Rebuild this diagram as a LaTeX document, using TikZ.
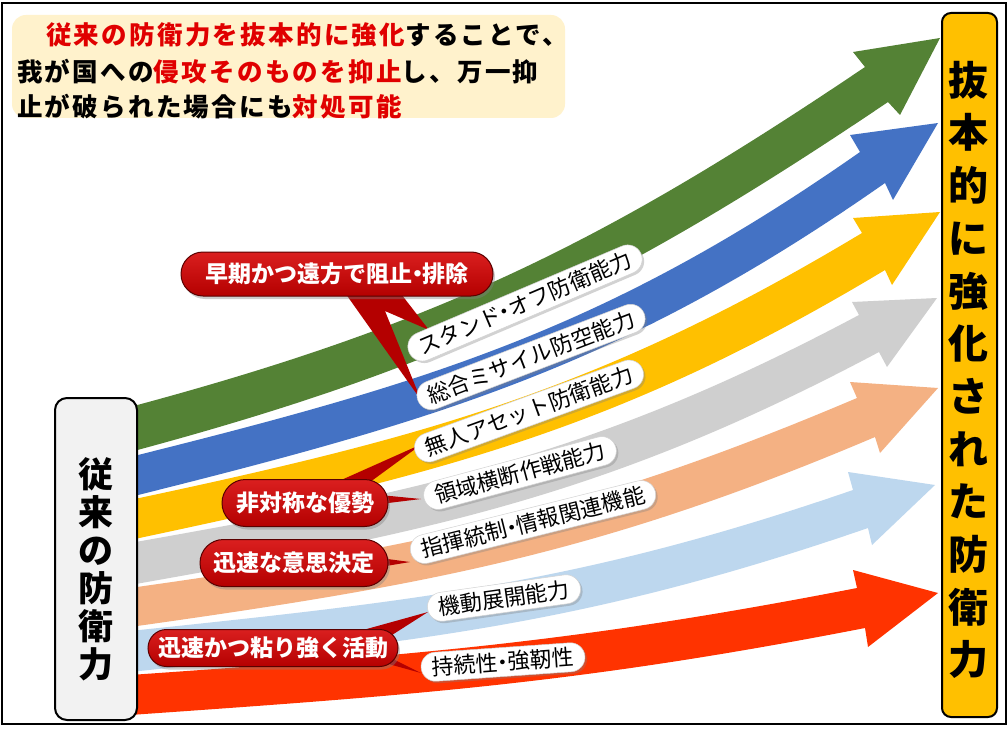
\documentclass[tikz,border=0pt]{standalone}
\usepackage{fontspec}
\setmainfont{Noto Sans CJK JP}
\usetikzlibrary{shapes.misc,shadows}
\definecolor{cgreen}{HTML}{548235}
\definecolor{cblue}{HTML}{4472C4}
\definecolor{cyellow}{HTML}{FFC000}
\definecolor{cgray}{HTML}{CFCFCF}
\definecolor{cpeach}{HTML}{F4B183}
\definecolor{clblue}{HTML}{BDD7EE}
\definecolor{cred}{HTML}{FF3300}
\definecolor{calltop}{HTML}{DA1F1F}
\definecolor{callbot}{HTML}{B40000}
\definecolor{calldraw}{HTML}{5A0000}
\definecolor{cream}{HTML}{FFF2CC}
\definecolor{boxgray}{HTML}{F2F2F2}
\definecolor{txtred}{HTML}{E00000}
\newcommand{\nkg}{\kern-0.28em・\kern-0.28em}
\begin{document}
\begin{tikzpicture}[x=1pt,y=1pt,
  lbl/.style={rounded rectangle, fill=white, draw=gray!35, line width=0.5,
    inner xsep=7, inner ysep=2, minimum height=29,
    font=\fontsize{22}{24}\selectfont,
    drop shadow={shadow xshift=2, shadow yshift=-2, opacity=0.35}},
  callout/.style={rounded rectangle, top color=calltop, bottom color=callbot,
    draw=calldraw, line width=1, text=white, inner sep=0,
    font=\bfseries\fontsize{23}{26}\selectfont,
    drop shadow={shadow xshift=2, shadow yshift=-3, opacity=0.4}},
  ptr/.style={fill=callbot}]
\useasboundingbox (0,0) rectangle (1008,-735);
\fill[white] (0,0) rectangle (1008,-735);
\draw[line width=2] (2,-3) rectangle (1006,-724);

% arrows
\fill[cgreen] (130,-407) to[out=15,in=214] (865,-67) -- (853,-52) -- (940,-38) -- (900,-115) -- (888,-102) to[out=214,in=15] (130,-452) -- cycle;
\fill[cblue] (130,-457) to[out=14,in=215] (860,-152) -- (850,-135) -- (938,-123) -- (893,-200) -- (885,-183) to[out=215,in=14] (130,-497) -- cycle;
\fill[cyellow] (130,-500) to[out=12,in=211] (862,-233) -- (853,-218) -- (940,-212) -- (892,-285) -- (885,-270) to[out=211,in=12] (130,-540) -- cycle;
\fill[cgray] (130,-543) to[out=10,in=208] (859,-315) -- (852,-302) -- (937,-298) -- (887,-367) -- (879,-352) to[out=208,in=10] (130,-585) -- cycle;
\fill[cpeach] (130,-588) to[out=8,in=203] (857,-398) -- (850,-382) -- (938,-388) -- (880,-453) -- (875,-437) to[out=203,in=8] (130,-627) -- cycle;
\fill[clblue] (130,-631) to[out=6,in=199] (853,-490) -- (848,-472) -- (935,-485) -- (872,-545) -- (868,-528) to[out=199,in=6] (130,-672) -- cycle;
\fill[cred] (130,-675) to[out=4,in=191] (857,-588) -- (853,-570) -- (938,-593) -- (868,-647) -- (865,-628) to[out=191,in=4] (130,-715) -- cycle;

% pointer tips
\coordinate (q1) at (429,-330);
\coordinate (q2) at (421,-400);
\coordinate (q3) at (422,-444);
\coordinate (q4) at (421,-499);
\coordinate (q5) at (410,-562);
\coordinate (q6) at (428,-612);
\coordinate (q7) at (421,-673);

% pointers
\fill[ptr] (343,-290) -- (q2) -- (385,-311) -- (q1) -- (398,-290) -- cycle;
\fill[ptr] (330,-485) -- (q3) -- (366,-485) -- cycle;
\fill[ptr] (380,-495) -- (q4) -- (380,-504) -- cycle;
\fill[ptr] (380,-558) -- (q5) -- (380,-567) -- cycle;
\fill[ptr] (345,-635) -- (q6) -- (392,-635) -- cycle;
\fill[ptr] (385,-663) -- (q7) -- (395,-660) -- cycle;

% labels
\node[lbl, rotate=23] (l1) at (525,-303) {スタンド\nkg オフ防衛能力};
\node[lbl, rotate=21] (l2) at (531,-357) {総合ミサイル防空能力};
\node[lbl, rotate=20] (l3) at (529,-411) {無人アセット防衛能力};
\node[lbl, rotate=15] (l4) at (520,-473) {領域横断作戦能力};
\node[lbl, rotate=14] (l5) at (533,-522) {指揮統制\nkg 情報関連機能};
\node[lbl, rotate=8] (l6) at (504,-598) {機動展開能力};
\node[lbl, rotate=4] (l7) at (503,-662) {持続性\nkg 強靭性};

% callouts
\node[callout, minimum width=312, minimum height=44] (c1) at (337,-274) {早期かつ遠方で阻止\nkg 排除};
\node[callout, minimum width=166, minimum height=47] (c2) at (305,-503) {非対称な優勢};
\node[callout, minimum width=188, minimum height=47] (c3) at (294,-563) {迅速な意思決定};
\node[callout, minimum width=250, minimum height=37] (c4) at (273,-648) {迅速かつ粘り強く活動};

% left box
\node[draw, line width=2, rounded corners=12, fill=boxgray, minimum width=82, minimum height=322] (lb) at (96,-559) {};
\node[align=center, inner sep=0, font=\bfseries\fontsize{35}{38}\selectfont] (lbt) at (96,-569) {従\\来\\の\\防\\衛\\力};

% right box
\node[draw, line width=2, rounded corners=9, fill=cyellow, minimum width=55, minimum height=704] (rb) at (969.5,-365) {};
\node[align=center, inner sep=0, font=\bfseries\fontsize{40}{52.7}\selectfont] (rbt) at (968,-370) {抜\\本\\的\\に\\強\\化\\さ\\れ\\た\\防\\衛\\力};

% top text box
\node[fill=cream, rounded corners=14, minimum width=553, minimum height=103, inner sep=0] (tb) at (288.5,-66.5) {};
\begin{scope}[every node/.style={anchor=base west, inner sep=0, font=\bfseries\fontsize{25.5}{30}\selectfont\addfontfeature{LetterSpace=9}}]
\node (t1) at (46,-45) {\textcolor{txtred}{従来の防衛力を抜本的に強化}することで、};
\node (t2) at (17,-82) {我が国への\textcolor{txtred}{侵攻そのものを抑止}し、万一抑};
\node (t3) at (17,-117) {止が破られた場合にも\textcolor{txtred}{対処可能}};
\end{scope}
\end{tikzpicture}
\end{document}
